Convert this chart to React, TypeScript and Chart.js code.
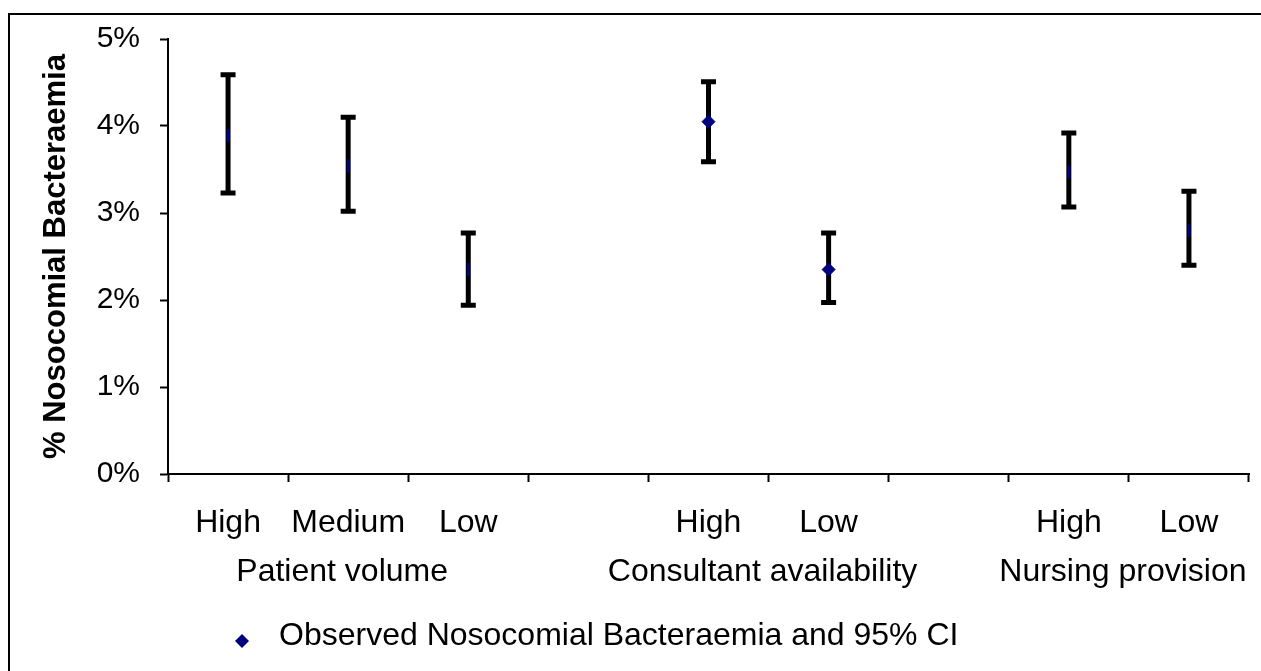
import React, { useEffect, useRef } from 'react';
import { Chart, registerables } from 'chart.js';

Chart.register(...registerables);

const categories = ['High', 'Medium', 'Low', '', 'High', 'Low', '', 'High', 'Low'];
const observed = [3.89, 3.54, 2.35, null, 4.05, 2.35, null, 3.47, 2.8];
const ciLower = [3.23, 3.02, 1.94, null, 3.59, 1.97, null, 3.07, 2.4];
const ciUpper = [4.59, 4.1, 2.77, null, 4.51, 2.77, null, 3.92, 3.25];
const groupLabels = ['Patient volume', 'Consultant availability', 'Nursing provision'];
const groupFirst = [0, 4, 7];
const groupLast = [2, 5, 8];
const yTicks = [0, 1, 2, 3, 4, 5];
const seriesLabel = 'Observed Nosocomial Bacteraemia and 95% CI';

const FONT = '"Liberation Sans", Arial, Helvetica, sans-serif';
const NAVY = '#000080';

const errorBarPlugin = {
  id: 'errorBars',
  beforeDatasetsDraw(chart: any) {
    const { ctx } = chart;
    const x = chart.scales.x;
    const y = chart.scales.y;
    ctx.save();
    ctx.strokeStyle = '#000';
    ctx.lineWidth = 5;
    ctx.lineCap = 'butt';
    ciLower.forEach((lo, i) => {
      const hi = ciUpper[i];
      if (lo == null || hi == null) return;
      const px = x.getPixelForValue(i);
      const yl = y.getPixelForValue(lo);
      const yh = y.getPixelForValue(hi);
      ctx.beginPath();
      ctx.moveTo(px, yl);
      ctx.lineTo(px, yh);
      ctx.stroke();
      ctx.beginPath();
      ctx.moveTo(px - 7.5, yl);
      ctx.lineTo(px + 7.5, yl);
      ctx.moveTo(px - 7.5, yh);
      ctx.lineTo(px + 7.5, yh);
      ctx.stroke();
    });
    ctx.restore();
  },
};

const decorPlugin = {
  id: 'decor',
  beforeDraw(chart: any) {
    const { ctx } = chart;
    ctx.save();
    ctx.strokeStyle = '#000';
    ctx.lineWidth = 2;
    ctx.beginPath();
    ctx.moveTo(9, chart.height + 10);
    ctx.lineTo(9, 14);
    ctx.lineTo(chart.width + 10, 14);
    ctx.stroke();
    ctx.restore();
  },
  afterDraw(chart: any) {
    const { ctx } = chart;
    const x = chart.scales.x;
    ctx.save();
    ctx.fillStyle = '#000';
    ctx.font = `32px ${FONT}`;
    ctx.textAlign = 'center';
    ctx.textBaseline = 'middle';
    groupLabels.forEach((g, k) => {
      const cx = (x.getPixelForValue(groupFirst[k]) + x.getPixelForValue(groupLast[k])) / 2;
      ctx.fillText(g, cx - 6, 572);
    });
    // legend
    const lx = 242;
    const ly = 641;
    const r = 7;
    ctx.fillStyle = NAVY;
    ctx.beginPath();
    ctx.moveTo(lx - r, ly);
    ctx.lineTo(lx, ly - r);
    ctx.lineTo(lx + r, ly);
    ctx.lineTo(lx, ly + r);
    ctx.closePath();
    ctx.fill();
    ctx.fillStyle = '#000';
    ctx.font = `32px ${FONT}`;
    ctx.textAlign = 'left';
    ctx.fillText(seriesLabel, 279, 636);
    ctx.restore();
  },
};

export default function App() {
  const ref = useRef<HTMLCanvasElement>(null);

  useEffect(() => {
    if (!ref.current) return;
    const isMarker = categories.map((_, i) => i === 4 || i === 5);
    const chart = new Chart(ref.current, {
      type: 'line',
      data: {
        labels: categories,
        datasets: [
          {
            label: seriesLabel,
            data: observed,
            showLine: false,
            pointStyle: isMarker.map((m) => (m ? 'rectRot' : 'line')) as any,
            pointRotation: isMarker.map((m) => (m ? 0 : 90)),
            pointRadius: 6.5,
            pointBorderWidth: isMarker.map((m) => (m ? 1 : 3)),
            pointBackgroundColor: NAVY,
            pointBorderColor: NAVY,
            borderColor: NAVY,
            backgroundColor: NAVY,
          },
        ],
      },
      options: {
        responsive: false,
        maintainAspectRatio: false,
        animation: false,
        layout: { padding: { left: 8, top: 39, right: 12, bottom: 0 } },
        plugins: {
          legend: { display: false },
          tooltip: { enabled: false },
        },
        scales: {
          x: {
            type: 'category',
            offset: true,
            grid: {
              offset: true,
              drawOnChartArea: false,
              drawTicks: true,
              tickLength: 8,
              tickWidth: 2,
              tickColor: '#000',
            },
            border: { color: '#000', width: 2 },
            ticks: {
              color: '#000',
              font: { family: FONT, size: 32 },
              padding: 22,
              maxRotation: 0,
              autoSkip: false,
            },
            afterFit: (s: any) => {
              s.height = 197;
              s.paddingLeft = 0;
              s.paddingRight = 0;
            },
          },
          y: {
            min: 0,
            max: 5,
            afterBuildTicks: (s: any) => {
              s.ticks = yTicks.map((v) => ({ value: v }));
            },
            ticks: {
              color: '#000',
              font: { family: FONT, size: 30 },
              padding: 20,
              callback: (v: any) => `${v}%`,
            },
            grid: {
              drawOnChartArea: false,
              tickLength: 8,
              tickWidth: 2,
              tickColor: '#000',
            },
            border: { color: '#000', width: 2 },
            title: {
              display: true,
              text: '% Nosocomial Bacteraemia',
              color: '#000',
              font: { family: FONT, size: 31, weight: 'bold' },
              padding: { top: 30, bottom: 0 },
            },
            afterFit: (s: any) => {
              s.width = 160;
              s.paddingTop = 0;
              s.paddingBottom = 0;
            },
          },
        },
      },
      plugins: [errorBarPlugin, decorPlugin],
    });
    return () => chart.destroy();
  }, []);

  return (
    <div style={{ position: 'fixed', left: 0, top: 0, width: 1261, height: 671, background: '#fff' }}>
      <canvas ref={ref} width={1261} height={671} style={{ display: 'block' }} />
    </div>
  );
}
